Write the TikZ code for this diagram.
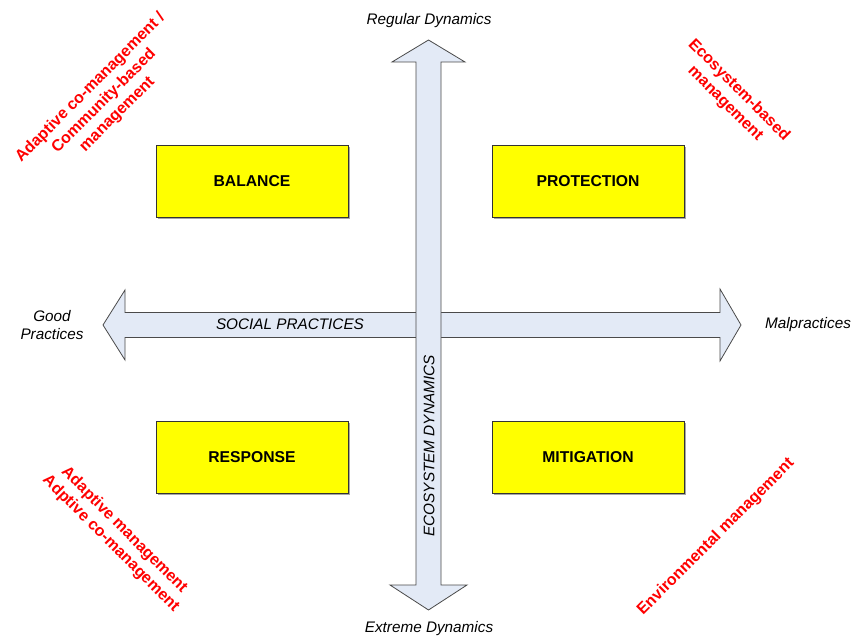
\documentclass[tikz,border=0pt]{standalone}
\usepackage{fontspec}
\setmainfont{Liberation Sans}
\usetikzlibrary{shadows}
\definecolor{arrowfill}{HTML}{E3EAF6}
\definecolor{arrowline}{HTML}{4A4A4A}
\definecolor{boxyellow}{HTML}{FFFF00}
\definecolor{mgmtred}{HTML}{FF0000}
\tikzset{
  quadbox/.style={draw=black!80, line width=0.8pt, fill=boxyellow,
    minimum width=192pt, minimum height=72pt, inner sep=0pt,
    font=\fontsize{15.7}{18}\selectfont\bfseries,
    drop shadow={shadow xshift=1.5pt, shadow yshift=-1.5pt, opacity=0.35, fill=black}},
  blockarrow/.style={draw=arrowline, line width=0.8pt, fill=arrowfill, line join=miter},
  axislabel/.style={font=\fontsize{15.3}{18.5}\selectfont\itshape, align=center, inner sep=0pt},
  mgmt/.style={text=mgmtred, font=\fontsize{16}{19}\selectfont\bfseries, align=center, inner sep=0pt}
}
\begin{document}
\begin{tikzpicture}[x=1pt, y=-1pt]
  \useasboundingbox (0,0) rectangle (857,636);
  \fill[white] (0,0) rectangle (857,636);

  % horizontal double block arrow (social practices axis)
  \draw[blockarrow] (103,325) -- (125,290) -- (125,312.5) -- (720,312.5) -- (720,289)
        -- (741,325) -- (720,361) -- (720,337.5) -- (125,337.5) -- (125,360) -- cycle;
  \node[axislabel] (social) at (290,324) {SOCIAL PRACTICES};

  % vertical double block arrow (ecosystem dynamics axis), drawn on top
  \draw[blockarrow] (428.5,40) -- (465,62) -- (441,62) -- (441,585) -- (467,585)
        -- (428.5,610) -- (390,585) -- (416,585) -- (416,62) -- (392,62) -- cycle;
  \node[axislabel, rotate=90] (ecosys) at (429,446) {ECOSYSTEM DYNAMICS};

  % axis end labels
  \node[axislabel] (regular) at (429,20.5) {Regular Dynamics};
  \node[axislabel] (extreme) at (429,628.5) {Extreme Dynamics};
  \node[axislabel] (good) at (52,325) {Good\\Practices};
  \node[axislabel] (mal) at (808,325) {Malpractices};

  % quadrant boxes
  \node[quadbox] (balance) at (252,181.5) {BALANCE};
  \node[quadbox] (protection) at (588,181.5) {PROTECTION};
  \node[quadbox] (response) at (252,457) {RESPONSE};
  \node[quadbox] (mitigation) at (588,457) {MITIGATION};

  % management approaches
  \node[mgmt, rotate=45] (tl) at (104,101) {Adaptive co-management /\\Community-based\\management};
  \node[mgmt, rotate=-45] (tr) at (732,97) {Ecosystem-based\\management};
  \node[mgmt, rotate=-45] (bl) at (117.5,537) {Adaptive management\\Adptive co-management};
  \node[mgmt, rotate=45] (br) at (716,537) {Environmental management};
\end{tikzpicture}
\end{document}
